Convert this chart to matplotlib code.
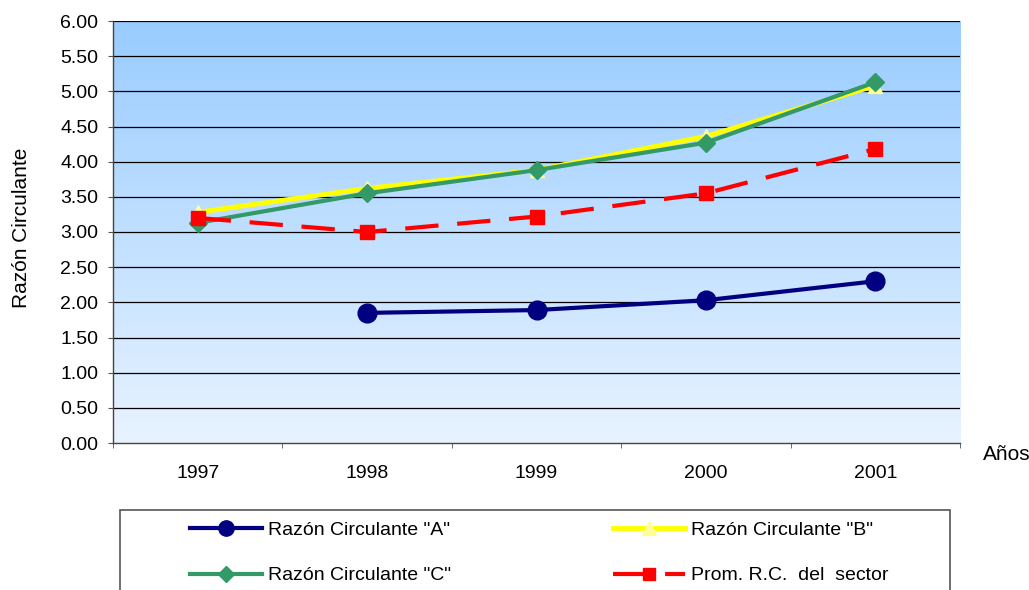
import numpy as np
import matplotlib
matplotlib.use("Agg")
import matplotlib.pyplot as plt
from matplotlib.patches import Rectangle
from matplotlib.lines import Line2D

# data
years = ["1997", "1998", "1999", "2000", "2001"]
rc_a = [np.nan, 1.85, 1.89, 2.03, 2.30]
rc_b = [3.28, 3.62, 3.88, 4.36, 5.08]
rc_c = [3.13, 3.55, 3.88, 4.27, 5.13]
prom = [3.20, 3.00, 3.22, 3.55, 4.18]

yticks = np.arange(0, 6.01, 0.5)

plt.rcParams["font.family"] = ["Liberation Sans", "DejaVu Sans"]
fs = 14

fig = plt.figure(figsize=(10.29, 5.90), dpi=100)
ax = fig.add_axes([113 / 1029, 1 - 443 / 590, 847 / 1029, 422 / 590])

x = np.arange(len(years))

# gradient background of the plot area
top = np.array([153, 204, 255]) / 255
bot = np.array([232, 243, 255]) / 255
t = np.linspace(0, 1, 256)[:, None, None]
grad = top * (1 - t) + bot * t
ax.imshow(grad, extent=(-0.5, 4.5, 0, 6), aspect="auto", zorder=0, origin="upper")

for v in yticks[1:]:
    ax.axhline(v, color="black", lw=0.9, zorder=1)

ax.plot(x, rc_a, color="#000080", lw=3, marker="o", ms=13.5, zorder=3)
ax.plot(x, rc_b, color="#FFFF00", lw=3.5, marker="^", ms=10,
        mfc="#FFFF99", mec="#FFFF99", zorder=3)
ax.plot(x, rc_c, color="#339966", lw=3, marker="D", ms=9.5, zorder=4)
ax.plot(x, prom, color="#FF0000", lw=3, ls=(0, (8, 4.5)), marker="s", ms=10,
        zorder=5)

ax.set_xlim(-0.5, 4.5)
ax.set_ylim(0, 6)
ax.set_yticks(yticks)
ax.set_yticklabels(["%.2f" % v for v in yticks], fontsize=fs)
ax.set_xticks(x)
ax.set_xticklabels(years, fontsize=fs)
ax.set_xticks(np.arange(-0.5, 4.6, 1), minor=True)
ax.tick_params(axis="x", which="major", length=0, pad=16)
ax.tick_params(axis="x", which="minor", length=3.5, color="#555555", direction="out")
ax.tick_params(axis="y", length=3.5, color="#555555", pad=7)

for s in ["top", "right"]:
    ax.spines[s].set_visible(False)
for s in ["left", "bottom"]:
    ax.spines[s].set_color("#444444")
    ax.spines[s].set_linewidth(1.0)

fig.text(22 / 1029, 1 - 228 / 590, "Razón Circulante", rotation=90,
         ha="center", va="center", fontsize=fs + 1)
fig.text(983 / 1029, 1 - 455 / 590, "Años", ha="left", va="center", fontsize=fs + 1)

# legend frame (runs off the bottom of the figure)
fig.patches.append(Rectangle((120 / 1029, -0.02), 830 / 1029, 80 / 590 + 0.02,
                             transform=fig.transFigure, fill=False,
                             edgecolor="#555555", lw=1.2))

handles = [
    Line2D([], [], color="#000080", lw=3, marker="o", ms=11),
    Line2D([], [], color="#339966", lw=3, marker="D", ms=8),
    Line2D([], [], color="#FFFF00", lw=3.5, marker="^", ms=10, mfc="#FFFF99", mec="#FFFF99"),
    Line2D([], [], color="#FF0000", lw=3, ls=(0, (8, 4.5)), marker="s", ms=9),
]
labels = ['Razón Circulante "A"', 'Razón Circulante "C"',
          'Razón Circulante "B"', 'Prom. R.C.  del  sector']
fig.legend(handles, labels, loc="upper left", ncol=2, frameon=False,
           bbox_to_anchor=(190 / 1029, 1 - 521 / 590), borderpad=0, borderaxespad=0,
           handlelength=3.7, handletextpad=0.3, columnspacing=8.35,
           labelspacing=1.45, fontsize=fs)

fig.savefig("out.png", dpi=100)
